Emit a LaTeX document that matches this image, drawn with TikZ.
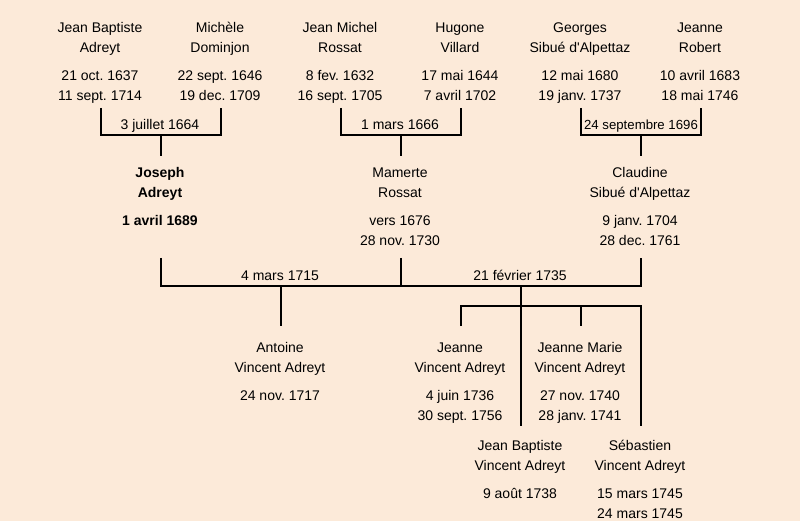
\documentclass[tikz,border=0pt]{standalone}
\usepackage{fontspec}
\setmainfont{Liberation Sans}
\frenchspacing
\definecolor{bg}{RGB}{252,234,217}
\newcommand\tst{\rule{0pt}{14pt}}
\newcommand\apos{\textquotesingle}
\begin{document}
\begin{tikzpicture}[x=1pt,y=-1pt,
  person/.style={align=center, inner sep=0pt, anchor=north, font=\fontsize{14}{20}\selectfont},
  boldperson/.style={person, font=\fontsize{14}{20}\selectfont\bfseries},
  wed/.style={inner sep=0pt, anchor=base, font=\fontsize{14}{20}\selectfont},
  link/.style={line width=2pt}]
\fill[bg] (0,0) rectangle (800,521);
\useasboundingbox (0,0) rectangle (800,521);
% generation 1
\node[person] (jba) at (100,18) {\tst Jean Baptiste\\Adreyt\\[8pt]21 oct. 1637\\11 sept. 1714};
\node[person] (mdo) at (220,18) {\tst Michèle\\Dominjon\\[8pt]22 sept. 1646\\19 dec. 1709};
\node[person] (jmr) at (340,18) {\tst Jean Michel\\Rossat\\[8pt]8 fev. 1632\\16 sept. 1705};
\node[person] (hvi) at (460,18) {\tst Hugone\\Villard\\[8pt]17 mai 1644\\7 avril 1702};
\node[person] (gsa) at (580,18) {\tst Georges\\Sibué d\apos Alpettaz\\[8pt]12 mai 1680\\19 janv. 1737};
\node[person] (jro) at (700,18) {\tst Jeanne\\Robert\\[8pt]10 avril 1683\\18 mai 1746};
% marriages gen 1
\node[wed] (w1) at (160,130) {3 juillet 1664};
\node[wed] (w2) at (400,130) {1 mars 1666};
\node[wed, font=\fontsize{13.2}{20}\selectfont] (w3) at (641,130) {24 septembre 1696};
% generation 2
\node[boldperson] (jad) at (160,163) {\tst Joseph\\Adreyt\\[8pt]1 avril 1689};
\node[person] (mro) at (400,163) {\tst Mamerte\\Rossat\\[8pt]vers 1676\\28 nov. 1730};
\node[person] (csa) at (640,163) {\tst Claudine\\Sibué d\apos Alpettaz\\[8pt]9 janv. 1704\\28 dec. 1761};
% marriages gen 2
\node[wed] (w4) at (280,280) {4 mars 1715};
\node[wed] (w5) at (520,280) {21 février 1735};
% generation 3
\node[person] (ava) at (280,338) {\tst Antoine\\Vincent Adreyt\\[8pt]24 nov. 1717};
\node[person] (jva) at (460,338) {\tst Jeanne\\Vincent Adreyt\\[8pt]4 juin 1736\\30 sept. 1756};
\node[person] (jmv) at (580,338) {\tst Jeanne Marie\\Vincent Adreyt\\[8pt]27 nov. 1740\\28 janv. 1741};
\node[person] (jbv) at (520,436) {\tst Jean Baptiste\\Vincent Adreyt\\[8pt]9 août 1738};
\node[person] (sva) at (640,436) {\tst Sébastien\\Vincent Adreyt\\[8pt]15 mars 1745\\24 mars 1745};
% connector points
\coordinate (a1) at (101,108); \coordinate (a2) at (221,108);
\coordinate (b1) at (101,135); \coordinate (b2) at (221,135);
\coordinate (m1) at (161,135); \coordinate (k1) at (161,156);
\coordinate (a3) at (341,108); \coordinate (a4) at (461,108);
\coordinate (b3) at (341,135); \coordinate (b4) at (461,135);
\coordinate (m2) at (401,135); \coordinate (k2) at (401,156);
\coordinate (a5) at (581,108); \coordinate (a6) at (701,108);
\coordinate (b5) at (581,135); \coordinate (b6) at (701,135);
\coordinate (m3) at (641,135); \coordinate (k3) at (641,156);
\coordinate (c1) at (161,258); \coordinate (c2) at (401,258); \coordinate (c3) at (641,258);
\coordinate (d1) at (161,286); \coordinate (d2) at (401,286); \coordinate (d3) at (641,286);
\coordinate (m4) at (281,286); \coordinate (k4) at (281,326);
\coordinate (m5) at (521,286); \coordinate (k5) at (521,426);
\coordinate (e1) at (461,306); \coordinate (e2) at (641,306);
\coordinate (e3) at (581,306);
\coordinate (k6) at (461,326); \coordinate (k7) at (581,326); \coordinate (k8) at (641,426);
% connectors
\draw[link] (a1) -- (b1) -- (b2) -- (a2);
\draw[link] (m1) -- (k1);
\draw[link] (a3) -- (b3) -- (b4) -- (a4);
\draw[link] (m2) -- (k2);
\draw[link] (a5) -- (b5) -- (b6) -- (a6);
\draw[link] (m3) -- (k3);
\draw[link] (c1) -- (d1) -- (d3) -- (c3);
\draw[link] (c2) -- (d2);
\draw[link] (m4) -- (k4);
\draw[link] (m5) -- (k5);
\draw[link] (k6) -- (e1) -- (e2) -- (k8);
\draw[link] (e3) -- (k7);
\end{tikzpicture}
\end{document}
